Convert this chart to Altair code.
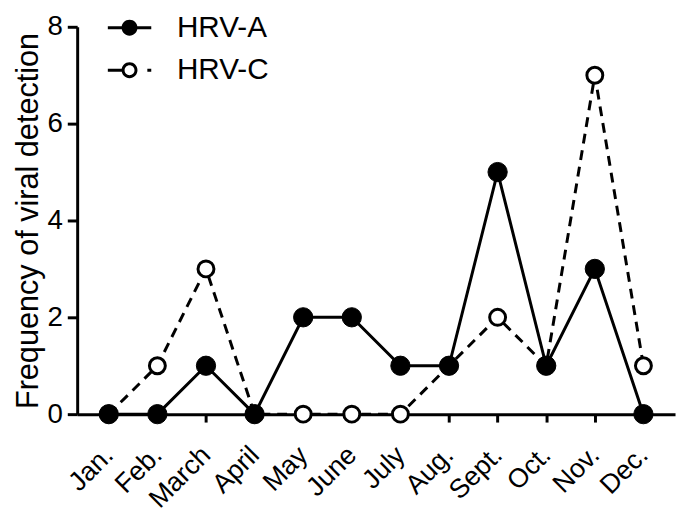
import altair as alt
import pandas as pd

months = ["Jan.", "Feb.", "March", "April", "May", "June", "July", "Aug.",
          "Sept.", "Oct.", "Nov.", "Dec."]
hrv_a = [0, 0, 1, 0, 2, 2, 1, 1, 5, 1, 3, 0]
hrv_c = [0, 1, 3, 0, 0, 0, 0, 1, 2, 1, 7, 1]
series = ["HRV-A", "HRV-C"]

rows = []
for s, vals in (("HRV-C", hrv_c), ("HRV-A", hrv_a)):
    for m, v in zip(months, vals):
        rows.append({"month": m, "value": v, "series": s})
df = pd.DataFrame(rows)

FONT = "Liberation Sans"
# legend glyphs built from filled pieces (unit square coordinates)
path_a = ("M-2.93,-0.2H2.93V0.2H-2.93Z"
          "M-1.07,0A1.07,1.07 0 1,1 1.07,0A1.07,1.07 0 1,1 -1.07,0Z")
path_c = ("M-2.93,-0.2H-1.0V0.2H-2.93Z"
          "M2.4,-0.2H2.93V0.2H2.4Z"
          "M-1.07,0A1.07,1.07 0 1,1 1.07,0A1.07,1.07 0 1,1 -1.07,0Z"
          "M-0.67,0A0.67,0.67 0 1,0 0.67,0A0.67,0.67 0 1,0 -0.67,0Z")

x = alt.X("month:N", sort=months, scale=alt.Scale(type="point", padding=0.65),
          axis=alt.Axis(title=None, labelAngle=-45, labelAlign="right",
                        labelBaseline="middle", labelFontSize=27, labelFont=FONT,
                        labelColor="black", labelPadding=29, tickSize=8,
                        tickWidth=3, domainWidth=3, tickColor="black",
                        domainColor="black", grid=False))
yscale = alt.Scale(domain=[0, 8], nice=False)
yaxis = alt.Axis(title="Frequency of viral detection", values=[0, 2, 4, 6, 8],
                 titleFontSize=31, titleFont=FONT, titleFontWeight="normal",
                 titleColor="black", titlePadding=3,
                 labelFontSize=28, labelFont=FONT, labelColor="black",
                 labelPadding=5, tickSize=10, tickWidth=3, domainWidth=3,
                 tickColor="black", domainColor="black", grid=False)
y = alt.Y("value:Q", scale=yscale, axis=yaxis)

base = alt.Chart(df)

line_c = base.transform_filter(alt.datum.series == "HRV-C").mark_line(
    color="black", strokeWidth=3, strokeDash=[10, 7]).encode(x=x, y=y)
pts_c = base.transform_filter(alt.datum.series == "HRV-C").mark_point(
    shape="circle", filled=True, fill="white", stroke="black", strokeWidth=3,
    size=260, opacity=1).encode(x=x, y=y)
line_a = base.transform_filter(alt.datum.series == "HRV-A").mark_line(
    color="black", strokeWidth=3).encode(x=x, y=y)
pts_a = base.transform_filter(alt.datum.series == "HRV-A").mark_point(
    shape="circle", filled=True, fill="black", stroke="black", strokeWidth=1,
    size=380, opacity=1).encode(x=x, y=y)

leg = alt.Legend(title=None, orient="none", legendX=38, legendY=-14,
                 labelFontSize=30, labelFont=FONT, labelColor="black",
                 labelOffset=33, symbolSize=225, symbolStrokeWidth=0,
                 symbolFillColor="black", symbolOpacity=1,
                 rowPadding=13, padding=0)

# legend-only layer: its points sit outside the y domain and are clipped away
legend_layer = base.transform_calculate(off="datum.value + 100").mark_point(
    filled=True, size=225, color="black", opacity=1, clip=True).encode(
    x=x,
    y=alt.Y("off:Q", scale=yscale, axis=yaxis),
    shape=alt.Shape("series:N", scale=alt.Scale(domain=series, range=[path_a, path_c]),
                    legend=leg),
)

chart = alt.layer(line_c, pts_c, line_a, pts_a, legend_layer).properties(
    width=605, height=392,
    autosize=alt.AutoSizeParams(type="none"),
    padding={"left": 70, "top": 16, "right": 2, "bottom": 97},
    background="white",
).configure_view(stroke=None)

chart.save("out.html", embed_options={"renderer": "svg", "actions": False})
